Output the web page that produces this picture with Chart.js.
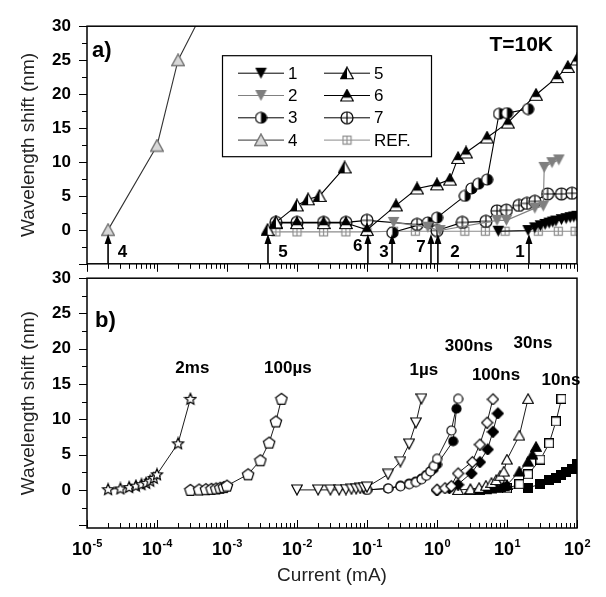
<!DOCTYPE html>
<html>
<head>
<meta charset="utf-8">
<script src="https://cdn.jsdelivr.net/npm/chart.js"></script>
<style>
  body { margin: 0; background: #fff; }
  #wrap { position: relative; width: 606px; height: 597px; }
  #ca { position: absolute; left: 0; top: 0; }
  #cb { position: absolute; left: 0; top: 252px; }
</style>
</head>
<body>
<div id="wrap">
  <canvas id="ca" width="606" height="290"></canvas>
  <canvas id="cb" width="606" height="345"></canvas>
</div>
<script>
const FONT = '"Liberation Sans", Arial, sans-serif';

// x axis decades (10^n mA)
const decades = [-5, -4, -3, -2, -1, 0, 1, 2];

// ---- panel a) T=10K, devices 1..7 and reference ----
const s1X = [7.5, 20, 25, 30, 35, 40, 45, 50, 60, 70, 80, 90, 100];
const s1Y = [-0.2, -0.1, 0.3, 0.6, 0.8, 1.0, 1.15, 1.3, 1.5, 1.65, 1.8, 1.9, 2.0];
const s2X = [0.24, 0.74, 1.1, 7.2, 9.8, 25, 33, 34, 44, 55];
const s2Y = [1.1, 0.4, -0.1, 1.4, 1.4, 3.2, 3.5, 9.2, 9.9, 10.3];
const s3X = [0.23, 0.74, 1.0, 2.5, 3.1, 3.9, 5.2, 7.7, 10, 20];
const s3Y = [-0.4, 1.1, 1.8, 5.0, 6.1, 6.8, 7.4, 17.1, 17.2, 17.8];
const s4X = [2e-5, 1e-4, 2e-4, 5e-4];
const s4Y = [0, 12.4, 25, 33];
const s5X = [3.8e-3, 5e-3, 0.01, 0.0144, 0.021, 0.048];
const s5Y = [0, 1.1, 3.6, 4.5, 5.0, 9.2];
const s6X = [5e-3, 0.01, 0.024, 0.05, 0.1, 0.26, 0.52, 1.0, 1.53, 2.0, 2.6, 5.2, 10.3, 26, 52, 74, 100];
const s6Y = [1.0, 1.0, 1.0, 1.0, 0, 3.6, 6.1, 6.7, 7.4, 10.6, 11.4, 13.6, 15.8, 19.9, 22.5, 24.0, 25.1];
const s7X = [5e-3, 0.01, 0.024, 0.05, 0.1, 0.52, 1.0, 2.3, 5.0, 7.2, 9.8, 14.8, 19.3, 25, 38, 60, 85];
const s7Y = [1.1, 1.1, 1.1, 1.1, 1.4, 0.8, -0.1, 1.1, 1.25, 2.8, 2.9, 3.6, 3.9, 4.2, 5.3, 5.3, 5.4];
const refX = [5e-3, 0.01, 0.024, 0.05, 0.1, 0.24, 0.49, 2.5, 4.9, 9.4, 28, 54, 94];
const refY = [-0.3, -0.3, -0.3, -0.3, -0.3, -0.2, -0.2, -0.2, -0.2, -0.2, -0.2, -0.2, -0.2];

// threshold arrows in panel a
const arrowLabels = ['4', '5', '6', '3', '7', '2', '1'];
const arrowAt = [2e-5, 3.85e-3, 0.103, 0.228, 0.82, 1.03, 20.6];
const arrowTextX = [3.2e-5, 6.3e-3, 0.074, 0.175, 0.59, 1.8, 15.3];
const arrowTextY = [-3.3, -3.3, -2.4, -3.3, -2.6, -3.3, -3.3];
const arrowTip = -0.6;

// ---- panel b) pulse widths ----
const msX = [2e-5, 3e-5, 4e-5, 5e-5, 6e-5, 7e-5, 8e-5, 9e-5, 1e-4, 2e-4, 3e-4];
const msY = [0.1, 0.2, 0.4, 0.6, 0.8, 1.0, 1.3, 1.7, 2.2, 6.6, 12.9];
const us100X = [3e-4, 4e-4, 5e-4, 6e-4, 7e-4, 8e-4, 9e-4, 1e-3, 2e-3, 3e-3, 4e-3, 5e-3, 6e-3];
const us100Y = [0, 0.05, 0.1, 0.15, 0.2, 0.3, 0.4, 0.6, 2.2, 4.2, 6.7, 9.7, 12.9];
const us1X = [0.01, 0.02, 0.03, 0.04, 0.05, 0.06, 0.07, 0.08, 0.09, 0.1, 0.2, 0.3, 0.4, 0.5, 0.6];
const us1Y = [0, 0, 0, 0, 0.05, 0.1, 0.15, 0.2, 0.3, 0.4, 2.2, 4.0, 6.5, 9.5, 12.9];
const ns300X = [0.1, 0.2, 0.3, 0.4, 0.5, 0.6, 0.7, 0.8, 0.9, 1.0, 1.6, 2.0];
const ns300Y = [0, 0.2, 0.5, 0.8, 1.1, 1.5, 2.0, 2.6, 3.4, 4.4, 8.4, 12.9];
const ns300fX = [0.1, 0.2, 0.3, 0.4, 0.5, 0.6, 0.7, 0.8, 0.9, 1.0, 1.7, 1.9];
const ns300fY = [0, 0.2, 0.6, 0.9, 1.2, 1.6, 2.1, 2.6, 3.0, 3.6, 6.9, 11.5];
const ns100X = [1.0, 1.3, 1.6, 2.0, 3.2, 4.1, 5.2, 6.3];
const ns100Y = [0.1, 0.3, 0.6, 2.4, 4.0, 6.5, 9.6, 12.9];
const ns100fX = [1.0, 1.5, 2.0, 3.1, 4.1, 5.3, 6.3, 7.4];
const ns100fY = [0, 0.3, 0.8, 2.4, 4.0, 5.8, 8.3, 10.9];
const ns30X = [2, 3, 4, 5, 6, 7, 8, 9, 10, 15, 20];
const ns30Y = [0, 0.1, 0.3, 0.6, 1.0, 1.4, 2.0, 2.6, 4.3, 7.7, 12.9];
const ns30fX = [3, 4, 5, 6, 7, 8, 9, 10, 15, 20, 23, 26];
const ns30fY = [0, 0, 0.1, 0.2, 0.3, 0.4, 0.5, 0.7, 2.6, 4.0, 5.0, 6.1];
const ns10X = [10, 15, 20, 30, 40, 50, 60];
const ns10Y = [0.2, 0.8, 2.2, 4.3, 6.6, 9.7, 12.9];
const ns10fX = [10, 20, 30, 40, 50, 60, 70, 85, 100];
const ns10fY = [0.2, 0.3, 0.8, 1.4, 1.7, 2.1, 2.6, 3.0, 3.6];

const pulseLabels = ['2ms', '100µs', '1µs', '300ns', '100ns', '30ns', '10ns'];
const pulseLabelX = [3.2e-4, 7.4e-3, 0.65, 2.86, 6.96, 23.5, 59];
const pulseLabelY = [17.3, 17.3, 17.0, 20.3, 16.3, 20.8, 15.6];

// ---- marker images ----
function mk(size, paint) {
  const c = document.createElement('canvas');
  c.width = size; c.height = size;
  const g = c.getContext('2d');
  g.lineWidth = 1.2;
  paint(g, size);
  return c;
}
function triPath(g, s, down) {
  g.beginPath();
  if (down) { g.moveTo(0.7, 1); g.lineTo(s - 0.7, 1); g.lineTo(s / 2, s - 1); }
  else { g.moveTo(s / 2, 1); g.lineTo(s - 0.7, s - 1.5); g.lineTo(0.7, s - 1.5); }
  g.closePath();
}
function circPath(g, s) {
  g.beginPath(); g.arc(s / 2, s / 2, s / 2 - 1, 0, Math.PI * 2);
}
function polyPath(g, s, n, inner) {
  g.beginPath();
  const r = s / 2 - 1, c = s / 2;
  const k = inner ? n * 2 : n;
  for (let i = 0; i < k; i++) {
    const a = -Math.PI / 2 + i * Math.PI * 2 / k;
    const rr = inner && i % 2 ? r * inner : r;
    const px = c + rr * Math.cos(a), py = c + 0.5 + rr * Math.sin(a);
    if (i === 0) g.moveTo(px, py); else g.lineTo(px, py);
  }
  g.closePath();
}
function openShape(path, fill) {
  return (g, s) => { path(g, s); g.fillStyle = fill || '#fff'; g.fill(); g.strokeStyle = '#000'; g.stroke(); };
}

const m1 = mk(13, (g, s) => { triPath(g, s, true); g.fillStyle = '#000'; g.fill(); });
const m2 = mk(13, (g, s) => { triPath(g, s, true); g.fillStyle = '#7f7f7f'; g.fill(); });
const m3 = mk(13, (g, s) => {
  circPath(g, s); g.fillStyle = '#fff'; g.fill();
  g.save(); g.clip(); g.fillStyle = '#000'; g.fillRect(s / 2, 0, s, s); g.restore();
  circPath(g, s); g.strokeStyle = '#000'; g.stroke();
});
const m4 = mk(14, (g, s) => { triPath(g, s, false); g.fillStyle = '#d8d8d8'; g.fill(); g.strokeStyle = '#777'; g.lineWidth = 1.5; g.stroke(); });
const m5 = mk(14, (g, s) => {
  triPath(g, s, false); g.fillStyle = '#fff'; g.fill();
  g.save(); g.clip(); g.fillStyle = '#000'; g.fillRect(0, 0, s / 2, s); g.restore();
  triPath(g, s, false); g.strokeStyle = '#000'; g.stroke();
});
const m6 = mk(14, (g, s) => {
  triPath(g, s, false); g.fillStyle = '#000'; g.fill();
  g.save(); g.clip(); g.fillStyle = '#fff'; g.fillRect(0, s - 4.8, s, 3); g.restore();
  triPath(g, s, false); g.strokeStyle = '#000'; g.stroke();
});
const m7 = mk(14, (g, s) => {
  circPath(g, s); g.fillStyle = '#fff'; g.fill(); g.strokeStyle = '#000'; g.stroke();
  g.beginPath(); g.moveTo(s / 2, 1); g.lineTo(s / 2, s - 1); g.moveTo(1, s / 2); g.lineTo(s - 1, s / 2); g.stroke();
});
const mRef = mk(11, (g, s) => {
  g.fillStyle = '#fff'; g.fillRect(1, 1, s - 2, s - 2);
  g.strokeStyle = '#8c8c8c'; g.strokeRect(1.5, 1.5, s - 3, s - 3);
  g.beginPath(); g.moveTo(s / 2, 1.5); g.lineTo(s / 2, s - 1.5); g.moveTo(1.5, s / 2); g.lineTo(s - 1.5, s / 2); g.stroke();
});

const mStar = mk(14, openShape((g, s) => polyPath(g, s, 5, 0.45)));
const mPent = mk(14, openShape((g, s) => polyPath(g, s, 5)));
const mDownO = mk(12, openShape((g, s) => triPath(g, s, true)));
const mCircO = mk(11, openShape(circPath));
const mCircF = mk(11, openShape(circPath, '#000'));
const mDiaO = mk(13, openShape((g, s) => polyPath(g, s, 4)));
const mDiaF = mk(13, openShape((g, s) => polyPath(g, s, 4), '#000'));
const mTriO = mk(12, openShape((g, s) => triPath(g, s, false)));
const mTriF = mk(12, openShape((g, s) => triPath(g, s, false), '#000'));
const mSqO = mk(10, openShape((g, s) => { g.beginPath(); g.rect(0.6, 0.6, s - 1.2, s - 1.2); }));
const mSqF = mk(10, openShape((g, s) => { g.beginPath(); g.rect(0.6, 0.6, s - 1.2, s - 1.2); }, '#000'));

function ds(label, xs, ys, style, color, width) {
  return {
    label: label,
    data: xs.map((x, i) => ({x: x, y: ys[i]})),
    pointStyle: style,
    pointRadius: 5,
    borderColor: color,
    backgroundColor: color,
    borderWidth: width,
    tension: 0,
    fill: false
  };
}

// ---- axes ----
function buildLogTicks(axis) {
  const t = [];
  decades.forEach((e, i) => {
    t.push({value: Math.pow(10, e), major: true});
    if (i < decades.length - 1) {
      for (let m = 2; m <= 9; m++) t.push({value: m * Math.pow(10, e), major: false});
    }
  });
  axis.ticks = t;
}
function buildLinTicks(axis) {
  const t = [];
  for (let v = -5; v <= 30; v += 2.5) t.push({value: v, major: v % 5 === 0});
  axis.ticks = t;
}
function yAxis(min) {
  return {
    type: 'linear', min: min, max: 30,
    afterBuildTicks: buildLinTicks,
    afterFit: s => { s.width = 87; },
    grid: {display: false, drawTicks: false},
    border: {display: false},
    ticks: {
      autoSkip: false, padding: 16, color: '#000',
      font: {family: FONT, size: 17, weight: 'bold'},
      callback: v => (v >= 0 && v % 5 === 0) ? String(v) : ''
    },
    title: {
      display: true, text: 'Wavelength shift (nm)', color: '#222',
      font: {family: FONT, size: 19}, padding: {top: 17, bottom: 0}
    }
  };
}
function xAxis(h, withTitle) {
  return {
    type: 'logarithmic', min: 1e-5, max: 100,
    afterBuildTicks: buildLogTicks,
    afterFit: s => { s.height = h; },
    grid: {display: false, drawTicks: false},
    border: {display: false},
    ticks: {display: false},
    title: {
      display: withTitle, text: 'Current (mA)', color: '#222',
      font: {family: FONT, size: 19}, padding: {top: 0, bottom: 10}
    }
  };
}

// frame, tick marks (x ticks: dir +1 down from bottom edge, -1 up into the plot)
function drawFrame(chart, dir) {
  const {ctx, chartArea: a, scales: {x, y}} = chart;
  ctx.save();
  ctx.strokeStyle = '#000';
  ctx.lineWidth = 1;
  ctx.beginPath();
  x.ticks.forEach(t => {
    const px = Math.round(x.getPixelForValue(t.value)) + 0.5;
    const len = t.major ? 8 : 5;
    ctx.moveTo(px, a.bottom);
    ctx.lineTo(px, a.bottom + dir * len);
  });
  y.ticks.forEach(t => {
    const py = Math.round(y.getPixelForValue(t.value)) + 0.5;
    const len = t.major ? 8 : 5;
    ctx.moveTo(a.left, py);
    ctx.lineTo(a.left - len, py);
  });
  ctx.stroke();
  ctx.lineWidth = 1.5;
  ctx.strokeRect(a.left, a.top, a.right - a.left, a.bottom - a.top);
  ctx.restore();
}

function text(ctx, str, x, y, font, align) {
  ctx.font = font;
  ctx.fillStyle = '#000';
  ctx.textAlign = align || 'left';
  ctx.textBaseline = 'alphabetic';
  ctx.fillText(str, x, y);
}

const panelA = {
  id: 'panelA',
  afterDraw(chart) {
    const {ctx, chartArea: a, scales: {x, y}} = chart;
    drawFrame(chart, 1);

    // arrows
    ctx.save();
    ctx.strokeStyle = '#000';
    ctx.fillStyle = '#000';
    ctx.lineWidth = 1.6;
    arrowAt.forEach((v, i) => {
      const px = x.getPixelForValue(v);
      const tip = y.getPixelForValue(arrowTip);
      ctx.beginPath();
      ctx.moveTo(px, a.bottom);
      ctx.lineTo(px, tip + 6);
      ctx.stroke();
      ctx.beginPath();
      ctx.moveTo(px, tip);
      ctx.lineTo(px - 3.5, tip + 10);
      ctx.lineTo(px + 3.5, tip + 10);
      ctx.closePath();
      ctx.fill();
      ctx.font = 'bold 17px ' + FONT;
      ctx.textAlign = 'center';
      ctx.textBaseline = 'middle';
      ctx.fillText(arrowLabels[i], x.getPixelForValue(arrowTextX[i]), y.getPixelForValue(arrowTextY[i]));
    });
    ctx.restore();

    // legend box
    const bx = a.left + 135, by = a.top + 29, bw = 209, bh = 101;
    ctx.save();
    ctx.fillStyle = '#fff';
    ctx.fillRect(bx, by, bw, bh);
    ctx.strokeStyle = '#000';
    ctx.lineWidth = 1.2;
    ctx.strokeRect(bx + 0.5, by + 0.5, bw, bh);
    chart.data.datasets.forEach((d, i) => {
      const col = Math.floor(i / 4), row = i % 4;
      const lx = bx + 16 + col * 86;
      const ly = by + 18 + row * 22.3;
      ctx.strokeStyle = d.borderColor;
      ctx.lineWidth = 1;
      ctx.beginPath();
      ctx.moveTo(lx, ly); ctx.lineTo(lx + 46, ly);
      ctx.stroke();
      const img = d.pointStyle;
      ctx.drawImage(img, lx + 23 - img.width / 2, ly - img.height / 2);
      ctx.font = '17px ' + FONT;
      ctx.fillStyle = '#000';
      ctx.textAlign = 'left';
      ctx.textBaseline = 'middle';
      ctx.fillText(d.label, lx + 50, ly + 1);
    });
    ctx.restore();

    text(ctx, 'a)', a.left + 5, a.top + 31, 'bold 22px ' + FONT);
    text(ctx, 'T=10K', a.right - 24, a.top + 25, 'bold 21px ' + FONT, 'right');
  }
};

const panelB = {
  id: 'panelB',
  afterDraw(chart) {
    const {ctx, chartArea: a, scales: {x, y}} = chart;
    drawFrame(chart, -1);

    // 10^n tick labels
    ctx.save();
    ctx.fillStyle = '#000';
    ctx.textBaseline = 'alphabetic';
    ctx.textAlign = 'left';
    decades.forEach(e => {
      const px = x.getPixelForValue(Math.pow(10, e));
      ctx.font = 'bold 18px ' + FONT;
      const w1 = ctx.measureText('10').width;
      ctx.font = 'bold 11px ' + FONT;
      const w2 = ctx.measureText(String(e)).width;
      const left = px - (w1 + w2) / 2;
      ctx.font = 'bold 18px ' + FONT;
      ctx.fillText('10', left, a.bottom + 27);
      ctx.font = 'bold 11px ' + FONT;
      ctx.fillText(String(e), left + w1 + 0.5, a.bottom + 19);
    });

    // pulse-width labels
    ctx.font = 'bold 17px ' + FONT;
    ctx.textAlign = 'center';
    ctx.textBaseline = 'middle';
    pulseLabels.forEach((s, i) => {
      ctx.fillText(s, x.getPixelForValue(pulseLabelX[i]), y.getPixelForValue(pulseLabelY[i]));
    });
    ctx.restore();

    text(ctx, 'b)', a.left + 8, a.top + 49, 'bold 22px ' + FONT);
  }
};

function baseOptions(xa, ya) {
  return {
    responsive: false,
    animation: false,
    devicePixelRatio: 1,
    events: [],
    layout: {padding: {top: 20, right: 29, left: 0, bottom: 0}},
    plugins: {legend: {display: false}, tooltip: {enabled: false}},
    scales: {x: xa, y: ya}
  };
}

new Chart(document.getElementById('ca'), {
  type: 'line',
  data: {
    datasets: [
      ds('1', s1X, s1Y, m1, '#000', 1.1),
      ds('2', s2X, s2Y, m2, '#808080', 1.1),
      ds('3', s3X, s3Y, m3, '#000', 1.1),
      ds('4', s4X, s4Y, m4, '#333', 1.1),
      ds('5', s5X, s5Y, m5, '#000', 1.1),
      ds('6', s6X, s6Y, m6, '#000', 1.1),
      ds('7', s7X, s7Y, m7, '#000', 1.1),
      ds('REF.', refX, refY, mRef, '#8c8c8c', 1.1)
    ]
  },
  options: baseOptions(xAxis(18, false), yAxis(-5)),
  plugins: [panelA]
});

new Chart(document.getElementById('cb'), {
  type: 'line',
  data: {
    datasets: [
      ds('2ms', msX, msY, mStar, '#000', 0.9),
      ds('100µs', us100X, us100Y, mPent, '#000', 0.9),
      ds('1µs', us1X, us1Y, mDownO, '#000', 0.9),
      ds('300ns', ns300X, ns300Y, mCircO, '#000', 0.9),
      ds('300ns b', ns300fX, ns300fY, mCircF, '#000', 0.9),
      ds('100ns', ns100X, ns100Y, mDiaO, '#000', 0.9),
      ds('100ns b', ns100fX, ns100fY, mDiaF, '#000', 0.9),
      ds('30ns', ns30X, ns30Y, mTriO, '#000', 0.9),
      ds('30ns b', ns30fX, ns30fY, mTriF, '#000', 0.9),
      ds('10ns', ns10X, ns10Y, mSqO, '#000', 0.9),
      ds('10ns b', ns10fX, ns10fY, mSqF, '#000', 0.9)
    ]
  },
  options: baseOptions(xAxis(69, true), yAxis(-5.4)),
  plugins: [panelB]
});
</script>
</body>
</html>
